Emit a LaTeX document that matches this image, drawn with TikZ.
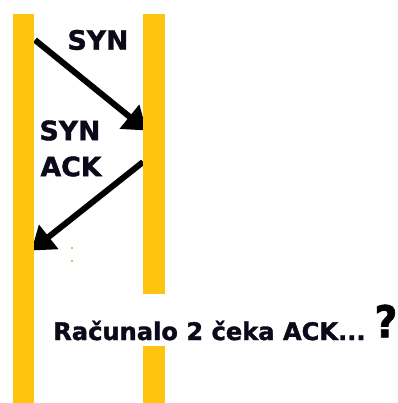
\documentclass[tikz,border=0pt]{standalone}
\usepackage{fontspec}
\setmainfont{DejaVu Sans}[BoldFeatures={FakeBold=1.5}]
\usetikzlibrary{arrows.meta}
\definecolor{lane}{RGB}{255,196,14}
\definecolor{ink}{RGB}{10,10,26}
\definecolor{speck}{RGB}{250,170,90}
\begin{document}
\begin{tikzpicture}[x=0.75pt,y=-0.75pt,
  lanebar/.style={fill=lane,draw=none},
  msg/.style={draw=black,line width=4.5pt,
    -{Triangle[length=16.5pt,width=22.5pt]}},
  lbl/.style={inner sep=0pt,text=ink,font=\bfseries\fontsize{20pt}{23pt}\selectfont},
  note/.style={inner sep=0pt,text=ink,font=\bfseries\fontsize{18.1pt}{21pt}\selectfont},
  qmark/.style={inner sep=0pt,text=black,font=\bfseries\fontsize{33pt}{36pt}\selectfont}]
\useasboundingbox (0,0) rectangle (398,403);
\fill[white] (0,0) rectangle (398,403);

% message end points
\coordinate (syn-from) at (35,40);
\coordinate (syn-to) at (146.5,130.5);
\coordinate (ack-from) at (143,162);
\coordinate (ack-to) at (31.5,250.5);

% messages (drawn first, lanes cover the arrow tips)
\draw[msg] (syn-from) -- (syn-to);
\draw[msg] (ack-from) -- (ack-to);

% lanes of the two computers
\path[lanebar] (13,14) rectangle (34,403);
\path[lanebar] (143,14) rectangle (165,294);
\path[lanebar] (143,346) rectangle (165,403);

% stray specks
\fill[speck] (71.3,246.5) rectangle (72.7,249);
\fill[speck] (71.3,259.5) rectangle (72.7,262);

% labels
\node[lbl] (syn1) at (98,40) {SYN};
\node[lbl] (syn2) at (70,130.5) {SYN};
\node[lbl] (ack1) at (71,166.5) {ACK};
\node[note,anchor=base west] (wait) at (53,340) {Računalo 2 čeka ACK...};
\node[qmark,xscale=0.9] (q) at (386,321) {?};
\end{tikzpicture}
\end{document}
